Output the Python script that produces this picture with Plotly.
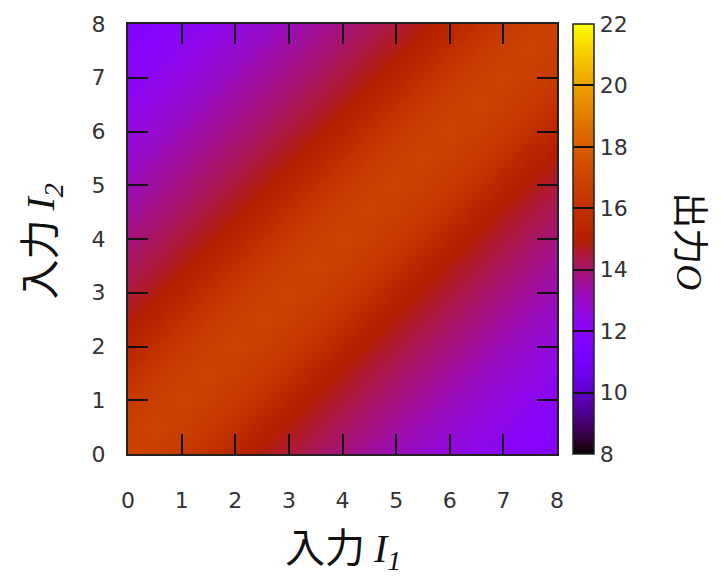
import math
import plotly.graph_objects as go

# Sample positions of the inputs I1 and I2 (same grid on both axes)
grid = [0, 0.5, 1, 1.5, 2, 2.5, 3, 3.5, 4, 4.5, 5, 5.5, 6, 6.5, 7, 7.5, 8]

# Output O against the distance |I1 - I2| in steps of 0.5
output_by_gap = [17.0, 16.8, 16.5, 16.0, 15.35, 14.85, 14.5, 14.15, 13.85,
                 13.5, 13.2, 12.9, 12.6, 12.3, 12.05, 11.8, 11.6]

tick_vals = [0, 1, 2, 3, 4, 5, 6, 7, 8]
cbar_ticks = [8, 10, 12, 14, 16, 18, 20, 22]

# Output surface on the grid: rows follow I2, columns follow I1
z = [[output_by_gap[abs(i - j)] for i in range(len(grid))] for j in range(len(grid))]


def palette(n=96):
    # gnuplot rgbformulae 7,5,15: r = sqrt(t), g = t^3, b = sin(2*pi*t)
    stops = []
    for k in range(n + 1):
        t = k / n
        r = math.sqrt(t)
        g = t ** 3
        b = min(max(math.sin(2 * math.pi * t), 0.0), 1.0)
        stops.append([t, f"rgb({round(r*255)},{round(g*255)},{round(b*255)})"])
    return stops


tick_font = dict(family="DejaVu Sans", size=22, color="#333")

fig = go.Figure(
    go.Heatmap(
        x=grid,
        y=grid,
        z=z,
        zmin=8,
        zmax=22,
        zsmooth="best",
        colorscale=palette(),
        colorbar=dict(
            thickness=21,
            thicknessmode="pixels",
            len=1,
            lenmode="fraction",
            y=0.5,
            yanchor="middle",
            x=1.0373,
            xanchor="left",
            xpad=0,
            ypad=0,
            outlinewidth=1.5,
            outlinecolor="#222",
            tickmode="array",
            tickvals=cbar_ticks,
            ticks="inside",
            ticklen=21,
            tickwidth=1.5,
            tickcolor="#111",
            tickfont=tick_font,
        ),
        hoverinfo="skip",
    )
)

axis_common = dict(
    range=[0, 8],
    tickmode="array",
    tickvals=tick_vals,
    ticks="inside",
    ticklen=20,
    tickwidth=2,
    tickcolor="#111",
    showline=True,
    linewidth=2,
    linecolor="#222",
    mirror="ticks",
    showgrid=False,
    zeroline=False,
    tickfont=tick_font,
)

fig.update_xaxes(**axis_common, ticklabelstandoff=26)
fig.update_yaxes(**axis_common, ticklabelstandoff=16)

cjk = "Noto Sans CJK JP"
serif = "Liberation Serif"


def label(sub):
    return (f"入力 <span style='font-family:{serif}'><i>I<sub>{sub}</sub></i></span>")


fig.update_layout(
    width=721,
    height=580,
    margin=dict(l=128, r=164, t=21, b=126),
    paper_bgcolor="white",
    plot_bgcolor="white",
    font=dict(family=cjk, color="#111"),
    annotations=[
        dict(text=label(1), xref="paper", yref="paper", x=0.5, y=-0.215,
             xanchor="center", yanchor="middle", showarrow=False,
             font=dict(family=cjk, size=40, color="#111")),
        dict(text=label(2), xref="paper", yref="paper", x=-0.21, y=0.494,
             xanchor="center", yanchor="middle", showarrow=False, textangle=-90,
             font=dict(family=cjk, size=40, color="#111")),
        dict(text=f"出力<span style='font-family:{serif}'><i>O</i></span>",
             xref="paper", yref="paper", x=1.318, y=0.494,
             xanchor="center", yanchor="middle", showarrow=False, textangle=90,
             font=dict(family=cjk, size=36, color="#111")),
    ],
)

fig.write_html("out.html")
